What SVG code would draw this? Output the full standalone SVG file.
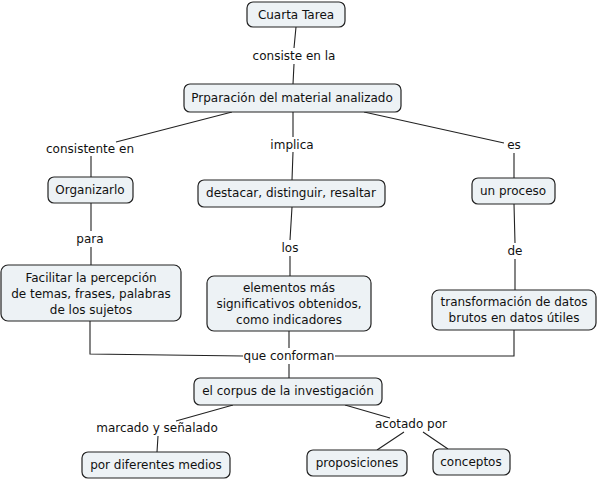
<svg xmlns="http://www.w3.org/2000/svg" width="597" height="481" viewBox="0 0 597 481">
<style>
.n rect{fill:#edf2f5;stroke:#222;stroke-width:1.2}
text{font-family:"DejaVu Sans",Verdana,sans-serif;font-size:12px;fill:#111;text-anchor:middle}
.c{fill:none;stroke:#222;stroke-width:1.1}
</style>
<rect width="597" height="481" fill="#fff"/>
<g id="connectors" class="c">
<path d="M296,27 L294,48 M294,64 L293,84"/>
<path d="M232,112 L116,142 M91,156 L91,177"/>
<path d="M293,112 L293,137 M293,152 L292,180"/>
<path d="M364,112 L504,143 M514,153 L514,178"/>
<path d="M91,203 L91,231 M91,247 L91,265"/>
<path d="M292,207 L290,240 M290,256 L290,276"/>
<path d="M514,204 L515,243 M515,259 L515,290"/>
<path d="M90,321 L90,354 L243,356 M289,331 L289,348 M514,330 L514,356 L335,356 M289,364 L289,378"/>
<path d="M233,405 L176,421 M158,436 L157,452"/>
<path d="M345,405 L390,418 M404,432 L377,450 M423,432 L448,449"/>
</g>
<g id="labels">
<text x="294" y="60">consiste en la</text>
<text x="90" y="153">consistente en</text>
<text x="292" y="149">implica</text>
<text x="514" y="149">es</text>
<text x="90" y="243">para</text>
<text x="290" y="252">los</text>
<text x="515" y="255">de</text>
<text x="289" y="360">que conforman</text>
<text x="157" y="432">marcado y señalado</text>
<text x="411" y="428">acotado por</text>
</g>
<g id="n1" class="n"><rect x="247" y="2" width="98" height="25" rx="6"/><text x="296" y="19">Cuarta Tarea</text></g>
<g id="n2" class="n"><rect x="184" y="84" width="217" height="28" rx="6"/><text x="292" y="102">Prparación del material analizado</text></g>
<g id="n3" class="n"><rect x="48" y="177" width="85" height="26" rx="6"/><text x="90" y="194">Organizarlo</text></g>
<g id="n4" class="n"><rect x="198" y="180" width="187" height="27" rx="6"/><text x="291" y="197">destacar, distinguir, resaltar</text></g>
<g id="n5" class="n"><rect x="472" y="178" width="83" height="26" rx="6"/><text x="513" y="195">un proceso</text></g>
<g id="n6" class="n"><rect x="1" y="265" width="180" height="56" rx="7"/><text x="91" y="282">Facilitar la percepción</text><text x="91" y="298">de temas, frases, palabras</text><text x="91" y="314">de los sujetos</text></g>
<g id="n7" class="n"><rect x="207" y="276" width="164" height="55" rx="7"/><text x="289" y="292">elementos más</text><text x="289" y="308">significativos obtenidos,</text><text x="289" y="324">como indicadores</text></g>
<g id="n8" class="n"><rect x="432" y="290" width="164" height="40" rx="7"/><text x="514" y="306">transformación de datos</text><text x="514" y="322">brutos en datos útiles</text></g>
<g id="n9" class="n"><rect x="194" y="378" width="188" height="27" rx="6"/><text x="288" y="395">el corpus de la investigación</text></g>
<g id="n10" class="n"><rect x="82" y="452" width="148" height="26" rx="6"/><text x="156" y="469">por diferentes medios</text></g>
<g id="n11" class="n"><rect x="307" y="450" width="100" height="26" rx="6"/><text x="357" y="467">proposiciones</text></g>
<g id="n12" class="n"><rect x="433" y="449" width="77" height="26" rx="6"/><text x="471" y="466">conceptos</text></g>
</svg>
